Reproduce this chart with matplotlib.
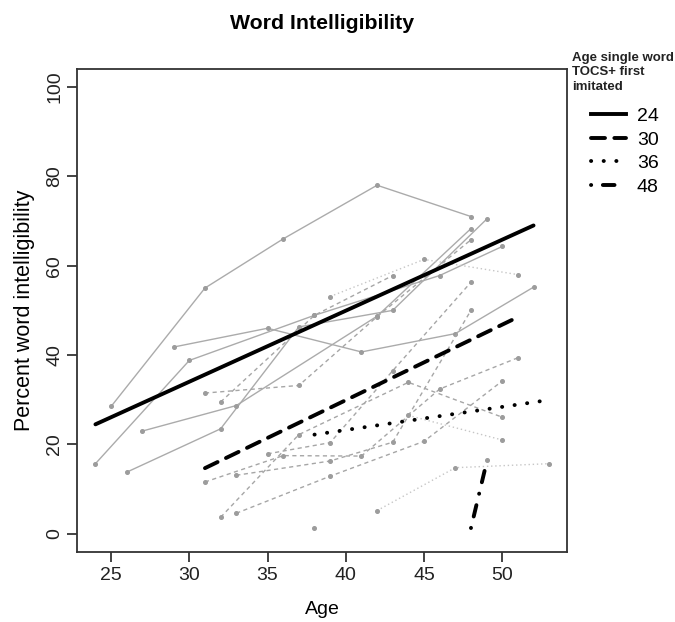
import matplotlib
matplotlib.use("Agg")
import matplotlib.pyplot as plt
from matplotlib.lines import Line2D

# Groups (age single word TOCS+ first imitated)
groups = ["24", "30", "36", "48"]

# Individual trajectories
ages_24 = [[25, 31, 36, 42, 48], [24, 30, 38, 46, 50], [29, 35, 41, 47, 52],
           [26, 32, 37, 43, 49], [27, 33, 42, 48]]
vals_24 = [[28.5, 55, 66, 78, 71], [15.7, 38.8, 48.9, 57.8, 64.3], [41.8, 46, 40.7, 44.8, 55.2],
           [13.8, 23.5, 46.3, 50, 70.4], [23, 28.7, 48.7, 68.3]]

ages_30 = [[31, 37, 42, 48], [32, 38, 43], [32, 37, 44, 50], [33, 39, 45, 50],
           [31, 36, 41, 46, 51], [35, 39, 43, 48], [33, 39, 43, 48]]
vals_30 = [[31.5, 33.2, 48.6, 65.8], [29.5, 48.9, 57.8], [3.7, 22.2, 33.9, 26.1], [4.6, 12.9, 20.7, 34.2],
           [11.6, 17.5, 17.4, 32.4, 39.4], [17.9, 20.4, 36.5, 56.3], [13.1, 16.3, 20.5, 50]]

ages_36 = [[39, 45, 51], [38], [44, 50], [42, 47, 53]]
vals_36 = [[53.1, 61.4, 58], [1.3], [26.5, 21], [5.2, 14.8, 15.7]]

ages_48 = [[49]]
vals_48 = [[16.6]]

# Group fitted lines (start, end)
fit_x = [[24, 52], [31, 51], [38, 52.5], [48, 49]]
fit_y = [[24.5, 69], [14.7, 48.5], [22.2, 29.7], [1.3, 16]]

x_ticks = [25, 30, 35, 40, 45, 50]
y_ticks = [0, 20, 40, 60, 80, 100]

# styles
gray_styles = ["-", (0, (3, 2.5)), (0, (1, 2)), (0, (1, 2, 4, 2))]
gray_cols = ["#ababab", "#a6a6a6", "#c6c6c6", "#c6c6c6"]
fit_styles = ["-", (0, (3.6, 2.4)), (0, (0.05, 3.2)), (0, (0.05, 3, 3, 3))]

plt.rcParams["font.family"] = ["Liberation Sans", "DejaVu Sans"]

fig = plt.figure(figsize=(6.75, 6.22), dpi=100)
ax = fig.add_axes([0.1145, 0.113, 0.726, 0.776])

all_ages = [ages_24, ages_30, ages_36, ages_48]
all_vals = [vals_24, vals_30, vals_36, vals_48]
for g in range(4):
    for a, v in zip(all_ages[g], all_vals[g]):
        ax.plot(a, v, linestyle=gray_styles[g], color=gray_cols[g], lw=1.0,
                marker="o", ms=2.6, mfc="#9c9c9c", mec="#9c9c9c")

handles = []
for g in range(4):
    ax.plot(fit_x[g], fit_y[g], linestyle=fit_styles[g], color="black", lw=2.8,
            dash_capstyle="round", solid_capstyle="round")
    handles.append(Line2D([0], [0], color="black", lw=2.8, linestyle=fit_styles[g],
                          dash_capstyle="round"))

ax.set_xlim(22.84, 54.16)
ax.set_ylim(-4, 104)
ax.set_xticks(x_ticks)
ax.set_yticks(y_ticks)
ax.set_yticklabels([str(t) for t in y_ticks], rotation=90, va="center")
ax.tick_params(direction="out", length=7, width=1.2, labelsize=14, colors="#222222")
ax.tick_params(axis="x", pad=4)
ax.tick_params(axis="y", pad=3)
for s in ax.spines.values():
    s.set_linewidth(1.3)
    s.set_color("#333333")

ax.set_xlabel("Age", fontsize=14, labelpad=12)
ax.set_ylabel("Percent word intelligibility", fontsize=15.5, labelpad=8)
fig.text(0.477, 0.963, "Word Intelligibility", fontsize=15.3, fontweight="bold",
         ha="center", va="center")

# legend
fig.text(0.848, 0.917, "Age single word\nTOCS+ first\nimitated", fontsize=9.5,
         fontweight="bold", ha="left", va="top", linespacing=1.3, color="#222222")
fig.legend(handles, groups, loc="upper left", bbox_to_anchor=(0.876, 0.827),
           frameon=False, fontsize=14, handlelength=1.8, handletextpad=0.55,
           labelspacing=0.3, borderpad=0, borderaxespad=0)

fig.savefig("out.png", dpi=100)
